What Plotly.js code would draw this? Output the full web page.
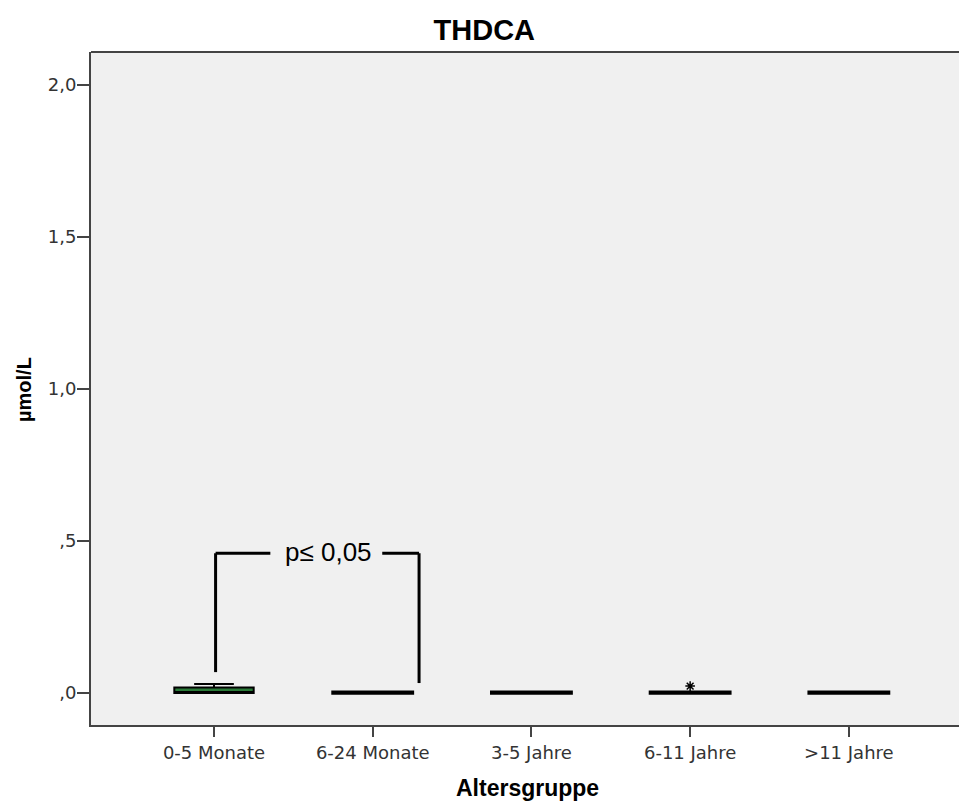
<!DOCTYPE html>
<html>
<head>
<meta charset="utf-8">
<script src="https://cdn.plot.ly/plotly-3.0.1.min.js"></script>
<style>html,body{margin:0;padding:0;background:#fff;}#chart{width:959px;height:805px;}</style>
</head>
<body>
<div id="chart"></div>
<script>
// Data
const categories = ["0-5 Monate", "6-24 Monate", "3-5 Jahre", "6-11 Jahre", ">11 Jahre"];
const lowerFence = [0.0, 0.0, 0.0, 0.0, 0.0];
const q1Values = [0.0, 0.0, 0.0, 0.0, 0.0];
const medianValues = [0.002, 0.0, 0.0, 0.0, 0.0];
const q3Values = [0.018, 0.003, 0.003, 0.003, 0.003];
const upperFence = [0.03, 0.0, 0.0, 0.0, 0.0];
const outlierCategories = ["6-11 Jahre"];
const outlierValues = [0.023];
const yTickValues = [0, 0.5, 1.0, 1.5, 2.0];
const yTickLabels = [",0", ",5", "1,0", "1,5", "2,0"];
// significance bracket (category index units, value units)
const bracketLeftX = [0.01, 0.01, 0.355];
const bracketLeftY = [0.069, 0.46, 0.46];
const bracketRightX = [1.06, 1.292, 1.292];
const bracketRightY = [0.46, 0.46, 0.033];
const bracketLabel = "p\u2264 0,05";
const bracketLabelPos = [0.72, 0.465];

function pick(arr, idx) { return idx.map(i => arr[i]); }
function boxTrace(idx, lw) {
  return {
    type: "box",
    x: pick(categories, idx),
    lowerfence: pick(lowerFence, idx),
    q1: pick(q1Values, idx),
    median: pick(medianValues, idx),
    q3: pick(q3Values, idx),
    upperfence: pick(upperFence, idx),
    width: 0.5,
    whiskerwidth: 0.5,
    fillcolor: "#2a7a38",
    line: {color: "#000000", width: lw},
    boxpoints: false,
    hoverinfo: "skip",
    showlegend: false
  };
}

const traces = [
  boxTrace([0], 2),
  boxTrace([1, 2, 3, 4], 3.5),
  {
    type: "scatter",
    mode: "markers",
    x: outlierCategories,
    y: outlierValues,
    marker: {symbol: "asterisk-open", size: 8, color: "#000", line: {color: "#000", width: 1.5}},
    showlegend: false,
    hoverinfo: "skip"
  }
];

function seg(xs, ys) {
  const out = [];
  for (let i = 0; i < xs.length - 1; i++) {
    out.push({type: "line", xref: "x", yref: "y", x0: xs[i], y0: ys[i], x1: xs[i+1], y1: ys[i+1],
      line: {color: "#000", width: 3}});
  }
  return out;
}

const shapes = [].concat(
  seg(bracketLeftX, bracketLeftY),
  seg(bracketRightX, bracketRightY),
  [{type: "line", xref: "paper", yref: "paper", x0: 0, x1: 1, y0: 1, y1: 1, line: {color: "#444", width: 2}}]
);

const layout = {
  width: 959,
  height: 805,
  margin: {l: 91, r: 0, t: 52, b: 80},
  paper_bgcolor: "#ffffff",
  plot_bgcolor: "#f0f0f0",
  boxmode: "overlay",
  title: {text: "<b>THDCA</b>", x: 0.505, xref: "container", xanchor: "center", y: 0.963, yanchor: "middle",
    font: {family: "Liberation Sans, Arial, sans-serif", size: 29, color: "#000"}},
  xaxis: {
    type: "category",
    range: [-0.775, 4.694],
    showline: true, linecolor: "#444", linewidth: 2,
    ticks: "outside", ticklen: 10, tickwidth: 2, tickcolor: "#444",
    showgrid: false, zeroline: false,
    tickfont: {family: "DejaVu Sans, sans-serif", size: 18, color: "#333"},
    title: {text: ""}
  },
  yaxis: {
    range: [-0.105, 2.109],
    tickvals: yTickValues,
    ticktext: yTickLabels,
    showline: true, linecolor: "#444", linewidth: 2,
    ticks: "outside", ticklen: 12, tickwidth: 2, tickcolor: "#444",
    ticklabelstandoff: -3,
    showgrid: false, zeroline: false,
    tickfont: {family: "DejaVu Sans, sans-serif", size: 18, color: "#333"},
    title: {text: ""}
  },
  shapes: shapes,
  annotations: [
    {text: bracketLabel, xref: "x", yref: "y", x: bracketLabelPos[0], y: bracketLabelPos[1], showarrow: false,
      font: {family: "Liberation Sans, Arial, sans-serif", size: 26, color: "#000"}, bgcolor: "rgba(0,0,0,0)"},
    {text: "<b>Altersgruppe</b>", xref: "paper", yref: "paper", x: 0.503, y: -0.093, xanchor: "center", yanchor: "middle",
      showarrow: false, font: {family: "Liberation Sans, Arial, sans-serif", size: 23, color: "#000"}},
    {text: "<b>\u00b5mol/L</b>", xref: "paper", yref: "paper", x: -0.077, y: 0.498, xanchor: "center", yanchor: "middle",
      textangle: -90, showarrow: false, font: {family: "Liberation Sans, Arial, sans-serif", size: 20, color: "#000"}}
  ]
};

Plotly.newPlot("chart", traces, layout, {displayModeBar: false, staticPlot: true});
</script>
</body>
</html>
